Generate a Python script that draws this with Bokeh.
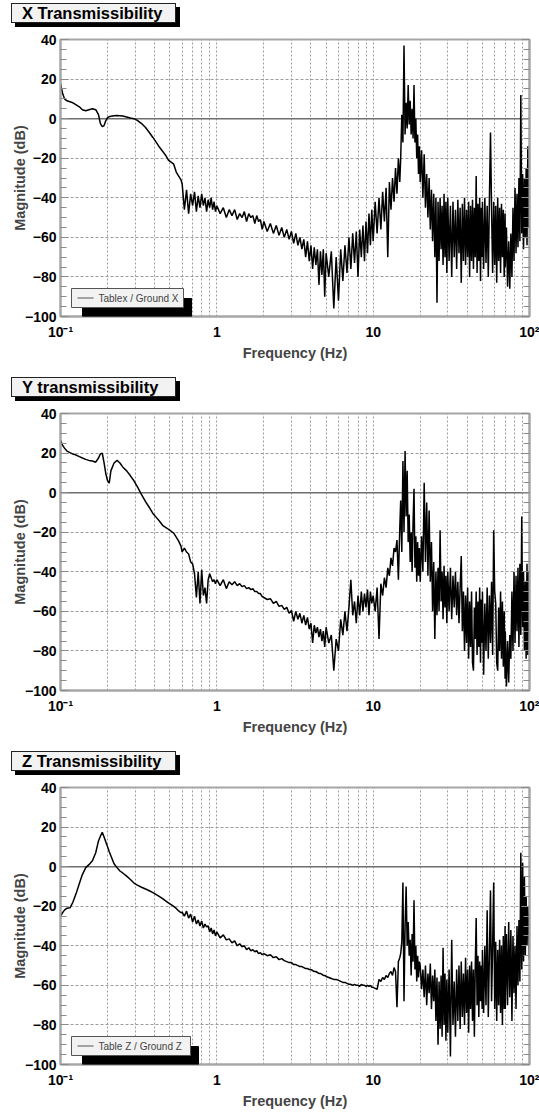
from bokeh.plotting import figure
from bokeh.models import (Range1d, FixedTicker, LinearAxis, Span, BoxAnnotation,
                          Label, CustomJSTickFormatter, Div)
from bokeh.layouts import column
from bokeh.embed import file_html
from bokeh.resources import INLINE

# ---------------- data ----------------
freq_low = [0.100, 0.103, 0.106, 0.110, 0.115,
            0.120, 0.126, 0.132, 0.138, 0.145,
            0.152, 0.160, 0.168, 0.175, 0.180,
            0.185, 0.190, 0.195, 0.200, 0.205,
            0.210, 0.220, 0.230, 0.240, 0.250,
            0.265, 0.280, 0.295, 0.310, 0.330,
            0.350, 0.370, 0.390, 0.410, 0.430,
            0.450, 0.470, 0.490, 0.510, 0.530,
            0.550, 0.570, 0.590]

freq_mid = [0.60, 0.62, 0.64, 0.66, 0.68,
            0.70, 0.72, 0.74, 0.76, 0.78,
            0.80, 0.82, 0.84, 0.86, 0.88,
            0.90, 0.92, 0.94, 0.96, 0.98,
            1.00, 1.05, 1.10, 1.15, 1.20,
            1.25, 1.30, 1.35, 1.40, 1.45,
            1.50, 1.55, 1.60, 1.65, 1.70,
            1.75, 1.80, 1.85, 1.90, 1.95,
            2.0, 2.1, 2.2, 2.3, 2.4,
            2.5, 2.6, 2.7, 2.8, 2.9,
            3.0, 3.1, 3.2, 3.3, 3.4,
            3.5, 3.6, 3.7, 3.8, 3.9,
            4.0, 4.1, 4.2, 4.3, 4.4,
            4.5, 4.6, 4.7, 4.8, 4.9,
            5.0, 5.2, 5.4, 5.6, 5.8,
            6.0, 6.2, 6.4, 6.6, 6.8,
            7.0, 7.2, 7.4, 7.6, 7.8,
            8.0, 8.2, 8.4, 8.6, 8.8,
            9.0, 9.2, 9.4, 9.6, 9.8,
            10.0, 10.3, 10.6, 10.9, 11.2,
            11.5, 11.8, 12.1, 12.4, 12.7,
            13.0, 13.3, 13.6, 13.9, 14.2,
            14.5, 14.8]

freq_hi = [15.0, 15.25, 15.5, 15.75, 16.0,
           16.25, 16.5, 16.75, 17.0, 17.25,
           17.5, 17.75, 18.0, 18.25, 18.5,
           18.75, 19.0, 19.25, 19.5, 19.75,
           20.0, 20.4, 20.8, 21.2, 21.6,
           22.0, 22.4, 22.8, 23.2, 23.6,
           24.0, 24.4, 24.8, 25.2, 25.6,
           26.0, 26.4, 26.8, 27.2, 27.6,
           28.0, 28.4, 28.8, 29.2, 29.6,
           30.0, 30.6, 31.2, 31.8, 32.4,
           33.0, 33.6, 34.2, 34.8, 35.4,
           36.0, 36.6, 37.2, 37.8, 38.4,
           39.0, 39.6, 40.2, 40.8, 41.4,
           42.0, 42.6, 43.2, 43.8, 44.4,
           45.0, 45.6, 46.2, 46.8, 47.4,
           48.0, 48.6, 49.2, 49.8,
           50.0, 50.9, 51.8, 52.7, 53.6,
           54.5, 55.4, 56.3, 57.2, 58.1,
           59.0, 59.9, 60.8, 61.7, 62.6,
           63.5, 64.4, 65.3, 66.2, 67.1,
           68.0, 68.9, 69.8,
           70.0, 71.2, 72.4, 73.6, 74.8,
           76.0, 77.2, 78.4, 79.6, 80.8,
           82.0, 83.2, 84.4, 85.6, 86.8,
           88.0, 89.2, 90.4, 91.6, 92.8,
           94.0, 95.2, 96.4, 97.6, 98.8,
           100.0]

# X transmissibility (dB)
x_db_low = [17.6, 13.0, 10.0, 9.0, 8.5,
            8.0, 7.0, 6.0, 4.5, 4.0,
            4.5, 5.0, 4.5, 2.0, -2.5,
            -4.0, -3.5, -1.0, 0.5, 1.0,
            1.2, 1.5, 1.6, 1.5, 1.3,
            0.8, 0.3, 0.0, -0.9, -2.5,
            -4.5, -7.0, -9.5, -12.0, -14.5,
            -16.5, -18.5, -21.0, -22.0, -23.0,
            -27.0, -29.0, -31.0]
x_db_mid = [-33, -46, -36, -48, -38,
            -44, -37, -47, -39, -45,
            -38, -44, -40, -47, -41,
            -45, -40, -46, -42, -47,
            -44, -48, -45, -50, -46,
            -49, -46, -51, -48, -50,
            -47, -52, -48, -50, -49,
            -53, -49, -52, -51, -56,
            -52, -57, -53, -58, -54,
            -59, -55, -60, -56, -61,
            -57, -63, -58, -64, -60,
            -66, -61, -70, -62, -72,
            -64, -76, -65, -74, -66,
            -84, -67, -79, -66, -90,
            -68, -80, -67, -96, -70,
            -92, -66, -82, -64, -78,
            -60, -76, -58, -73, -57,
            -80, -56, -70, -54, -72,
            -52, -68, -48, -64, -46,
            -62, -42, -58, -40, -56,
            -37, -52, -35, -70, -32,
            -46, -30, -42, -25, -38,
            -20, -32]
x_db_hi = [-20, 2, -12, 37, -8,
           8, -5, 17, -3, 9,
           -8, 5, -10, 17, -12,
           0, -20, -8, -28, -14,
           -32, -16, -40, -18, -45,
           -28, -50, -30, -56, -36,
           -62, -38, -70, -40, -93,
           -42, -72, -40, -66, -44,
           -74, -38, -70, -42, -78,
           -40, -72, -44, -80, -42,
           -70, -46, -76, -41, -68,
           -45, -83, -43, -72, -40,
           -74, -46, -70, -42, -80,
           -44, -72, -41, -76, -45,
           -70, -29, -78, -43, -72,
           -40, -82, -45, -70,
           -42, -76, -40, -73, -44,
           -80, -41, -7, -46, -78,
           -42, -74, -44, -83, -40,
           -72, -45, -78, -43, -70,
           -46, -80, -48,
           -75, -55, -85, -62, -86,
           -58, -80, -45, -72, -35,
           -68, -38, -65, -30, -62,
           12, -58, -28, -66, -30,
           -60, -25, -64, -14, -55,
           -30]

# Y transmissibility (dB)
y_db_low = [26.4, 24.0, 22.5, 21.0, 20.2,
            19.5, 19.0, 18.2, 17.5, 16.8,
            16.3, 16.0, 15.4, 17.5, 19.6,
            20.0, 15.0, 9.5, 6.0, 4.8,
            11.0, 15.0, 16.3, 15.0, 13.0,
            11.0, 8.5, 6.0, 3.0, -1.0,
            -4.5, -7.5, -10.5, -12.5, -14.5,
            -16.5, -17.5, -18.5, -19.5, -20.5,
            -22.5, -24.5, -27.0]
y_db_mid = [-30, -28, -30, -31, -35,
            -36, -41, -53, -40, -56,
            -39, -52, -48, -56, -44,
            -41, -43, -45, -44, -46,
            -44, -47, -44, -48.5, -45,
            -46.5, -45, -47, -46, -47.5,
            -47, -48.5, -48, -49, -48.5,
            -50, -50, -51, -51, -52.5,
            -53, -54, -53.6, -56, -55,
            -57.5, -57, -59, -58, -61,
            -59.5, -65, -60, -64, -61,
            -66, -62, -67, -63, -69,
            -66, -76, -67, -71, -68,
            -73, -69, -75, -70, -78,
            -68, -76, -72, -90, -74,
            -80, -64, -72, -60, -70,
            -58, -44, -62, -55, -66,
            -52, -62, -50, -60, -51,
            -58, -49, -62, -50, -56,
            -52, -60, -48, -74, -46,
            -52, -43, -48, -38, -42,
            -33, -37, -28, -30, -24,
            -44, -18]
y_db_hi = [-4, -30, 16, -20, 21,
           -12, 11, -25, -11, -35,
           -20, -40, -15, 2, -38,
           -22, -45, -25, -42, -28,
           -45, -22, -40, 5, -35,
           -5, -42, -9, -45, -25,
           -60, -35, -74, -40, -62,
           -38, -60, -19, -55, -40,
           -64, -37, -58, -42, -66,
           -40, -60, -38, -64, -42,
           -58, -40, -62, -45, -66,
           -48, -32, -70, -50, -80,
           -52, -76, -48, -84, -55,
           -78, -50, -86, -90, -58,
           -74, -50, -82, -55, -78,
           -48, -86, -54, -76,
           -50, -92, -56, -80, -48,
           -84, -52, -76, -45, -82,
           -19, -50, -56, -86, -90,
           -58, -80, -50, -84, -55,
           -88, -60, -94,
           -70, -98, -75, -96, -72,
           -84, -50, -80, -40, -76,
           -42, -70, -38, -78, -36,
           -72, -12, -68, -40, -80,
           -45, -84, -36, -82, -40,
           -70]

# Z transmissibility (dB)
z_db_low = [-25.0, -23.3, -22.0, -21.0, -20.8,
            -18.0, -13.5, -8.5, -4.0, -0.5,
            1.0, 3.0, 7.0, 13.0, 15.4,
            17.4, 15.0, 12.5, 10.0, 7.5,
            5.5, 1.5, -0.5, -2.2, -3.2,
            -4.8, -6.5, -8.3, -9.3, -10.4,
            -11.3, -12.2, -13.1, -14.1, -15.1,
            -16.2, -17.3, -18.3, -19.2, -20.1,
            -21.1, -22.4, -23.3]
z_db_mid = [-23, -25, -22.5, -26, -24,
            -28, -25, -29, -27, -30,
            -27.5, -31, -29, -30.5, -30,
            -33, -31, -34, -32, -35,
            -33, -36, -34.5, -37, -36.5,
            -38.5, -37.5, -40, -39, -40.5,
            -40, -42, -41, -42.5, -42,
            -43, -42.5, -44, -43.5, -44.5,
            -44, -45, -44.5, -46, -45.5,
            -47, -46.5, -47.5, -48, -48.5,
            -48.5, -49.5, -49.5, -50, -50.5,
            -50.5, -51, -51.5, -51.5, -52,
            -52, -52.5, -53, -53, -53.5,
            -54, -54, -54.5, -55, -55,
            -55.5, -56, -56.5, -57, -57,
            -57.5, -58, -58.5, -58.5, -59,
            -59.5, -59.5, -60, -59.5, -60,
            -60, -60.5, -59.5, -60, -60,
            -60.5, -60, -60.5, -60, -61,
            -61, -61.5, -62, -57, -58,
            -56, -57, -55, -56, -54,
            -53, -55, -51, -53, -71,
            -48, -46]
z_db_hi = [-44, -38, -8, -68, -30,
           -10, -40, -28, -45, -37,
           -55, -34, -48, -17, -52,
           -40, -58, -45, -56, -48,
           -50, -62, -52, -66, -50,
           -70, -54, -64, -49, -72,
           -55, -68, -52, -78, -56,
           -90, -58, -82, -55, -86,
           -41, -80, -54, -88, -57,
           -84, -52, -96, -37, -80,
           -58, -86, -52, -78, -50,
           -82, -48, -76, -54, -80,
           -46, -74, -52, -84, -50,
           -72, -48, -78, -52, -86,
           -50, -26, -70, -45, -76,
           -48, -68, -50, -72,
           -42, -74, -40, -70, -22,
           -76, -44, -12, -68, -40,
           -8, -72, -38, -78, -42,
           -70, -37, -74, -40, -80,
           -35, -72, -30,
           -72, -34, -70, -28, -66,
           -32, -78, -35, -64, -40,
           -72, -30, -60, -27, -58,
           7, -52, 2, -48, -5,
           -45, -15, -40, -20, -30,
           -47]

titles = ["X Transmissibility", "Y transmissibility", "Z Transmissibility"]
legend_texts = ["Tablex / Ground X", None, "Table Z / Ground Z"]

x_ticks_major = [0.1, 1, 10, 100]
x_ticks_minor = [0.2, 0.3, 0.4, 0.5, 0.6, 0.7, 0.8, 0.9,
                 2, 3, 4, 5, 6, 7, 8, 9,
                 20, 30, 40, 50, 60, 70, 80, 90]
x_tick_labels = {0.1: "10\u207b\u00b9", 1: "1", 10: "10", 100: "10\u00b2"}
y_ticks_major = [-100, -80, -60, -40, -20, 0, 20, 40]
y_ticks_minor = [-95, -90, -85, -75, -70, -65, -55, -50, -45, -35, -30, -25,
                 -15, -10, -5, 5, 10, 15, 25, 30, 35]

FONT = "Liberation Sans"
GRID = "#9c9c9c"
FRAME = "#a6a6a6"
TICK = "#8a8a8a"
TITLE_H = 28


def title_div(title):
    html = ('<div style="margin:3px 0 0 11px; width:165px; height:20px; box-sizing:border-box; '
            'background:#f2f2f2; border:1px solid #222; box-shadow:4px 4px 0 #000; '
            "font-family:'Liberation Sans', Arial, sans-serif; font-weight:bold; "
            'font-size:16.5px; line-height:18px; padding-left:10px; color:#000; '
            'white-space:nowrap;">' + title + '</div>')
    return Div(text=html, width=539, height=TITLE_H, margin=(0, 0, 0, 0))


def make_panel(freqs, db, legend_text, height, border_bottom):
    p = figure(width=539, height=height, x_axis_type="log",
               x_range=Range1d(0.1, 100), y_range=Range1d(-100, 40),
               output_backend="svg", toolbar_location=None,
               min_border_left=60, min_border_right=10,
               min_border_top=39 - TITLE_H, min_border_bottom=border_bottom)
    p.background_fill_color = "white"
    p.border_fill_color = "white"
    p.outline_line_color = FRAME
    p.outline_line_width = 2

    xt = FixedTicker(ticks=x_ticks_major, minor_ticks=x_ticks_minor)
    yt = FixedTicker(ticks=y_ticks_major, minor_ticks=y_ticks_minor)

    xa = p.xaxis[0]
    xa.ticker = xt
    xa.major_label_overrides = x_tick_labels
    xa.major_tick_in = 0
    xa.major_tick_out = 0
    xa.minor_tick_in = 0
    xa.minor_tick_out = 0
    xa.axis_line_color = FRAME
    xa.axis_line_width = 2
    xa.major_label_standoff = 7
    xa.major_label_text_font = FONT
    xa.major_label_text_font_style = "bold"
    xa.major_label_text_font_size = "14px"
    xa.major_label_text_color = "black"
    xa.axis_label = "Frequency (Hz)"
    xa.axis_label_text_font = FONT
    xa.axis_label_text_font_style = "bold"
    xa.axis_label_text_font_size = "14.5px"
    xa.axis_label_standoff = 2

    ya = p.yaxis[0]
    ya.ticker = yt
    ya.major_tick_in = 8
    ya.major_tick_out = 0
    ya.minor_tick_in = 6
    ya.minor_tick_out = 0
    ya.major_tick_line_color = TICK
    ya.minor_tick_line_color = TICK
    ya.axis_line_color = FRAME
    ya.axis_line_width = 2
    ya.major_label_standoff = 4
    ya.major_label_text_font = FONT
    ya.major_label_text_font_style = "bold"
    ya.major_label_text_font_size = "14px"
    ya.major_label_text_color = "black"
    ya.axis_label = "Magnitude (dB)"
    ya.axis_label_text_font = FONT
    ya.axis_label_text_font_style = "bold"
    ya.axis_label_text_font_size = "14.5px"
    ya.axis_label_standoff = -6

    ra = LinearAxis(ticker=yt, formatter=CustomJSTickFormatter(code="return ''"),
                    major_tick_in=8, major_tick_out=0, minor_tick_in=6, minor_tick_out=0,
                    major_tick_line_color=TICK, minor_tick_line_color=TICK,
                    axis_line_color=FRAME, axis_line_width=2, major_label_standoff=0)
    p.add_layout(ra, "right")

    p.xgrid.ticker = xt
    p.xgrid.grid_line_color = GRID
    p.xgrid.grid_line_dash = "2 2"
    p.xgrid.minor_grid_line_color = GRID
    p.xgrid.minor_grid_line_dash = "2 2"
    p.ygrid.ticker = FixedTicker(ticks=[-80, -60, -40, -20, 20])
    p.ygrid.grid_line_color = GRID
    p.ygrid.grid_line_dash = "3 2"

    p.add_layout(Span(location=0, dimension="width", line_color="#6e6e6e",
                      line_width=1.5, level="underlay"))

    p.line(freqs, db, line_color="black", line_width=1.5)

    if legend_text:
        right = 123 if legend_text.startswith("Tablex") else 130
        p.add_layout(BoxAnnotation(left=22, right=right + 8, bottom=0, top=18,
                                   left_units="screen", right_units="screen",
                                   bottom_units="screen", top_units="screen",
                                   fill_color="black", fill_alpha=1, line_color="black",
                                   line_alpha=1, level="overlay"))
        p.add_layout(BoxAnnotation(left=11, right=right, bottom=9, top=28,
                                   left_units="screen", right_units="screen",
                                   bottom_units="screen", top_units="screen",
                                   fill_color="#f2f2f2", fill_alpha=1, line_color="#555555",
                                   line_alpha=1, line_width=1, level="overlay"))
        p.add_layout(BoxAnnotation(left=17, right=33, bottom=18, top=19,
                                   left_units="screen", right_units="screen",
                                   bottom_units="screen", top_units="screen",
                                   fill_color="#555555", fill_alpha=1, line_alpha=0,
                                   level="overlay"))
        p.add_layout(Label(x=38, y=18.5, x_units="screen", y_units="screen", text=legend_text,
                           text_font=FONT, text_font_size="10px", text_color="#444444",
                           text_baseline="middle", text_align="left", level="overlay"))
    return p


all_freq = freq_low + freq_mid + freq_hi
p1 = make_panel(all_freq, x_db_low + x_db_mid + x_db_hi, legend_texts[0], 374 - TITLE_H, 58)
p2 = make_panel(all_freq, y_db_low + y_db_mid + y_db_hi, legend_texts[1], 374 - TITLE_H, 58)
p3 = make_panel(all_freq, z_db_low + z_db_mid + z_db_hi, legend_texts[2], 365 - TITLE_H, 49)

layout = column(title_div(titles[0]), p1, title_div(titles[1]), p2,
                title_div(titles[2]), p3, spacing=0)
open("out.html", "w").write(file_html(layout, INLINE))
